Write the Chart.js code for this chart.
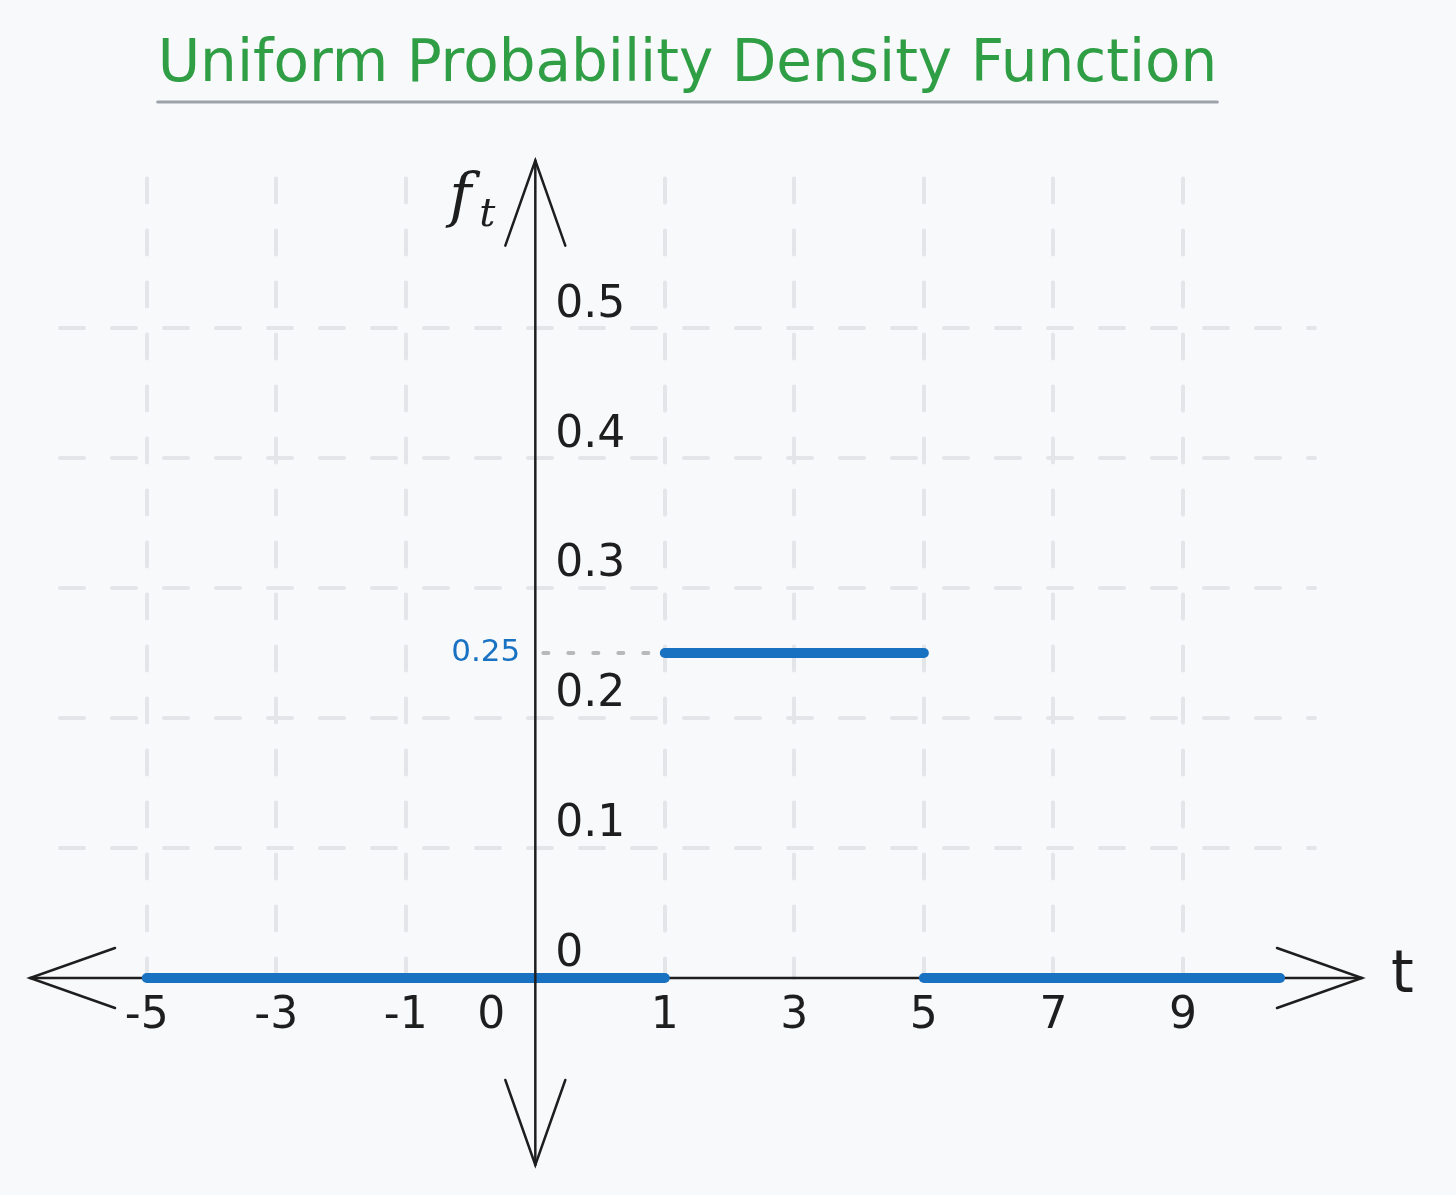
<!DOCTYPE html>
<html>
<head>
<meta charset="utf-8">
<title>Uniform Probability Density Function</title>
<script src="https://cdn.jsdelivr.net/npm/chart.js@4.4.1/dist/chart.umd.min.js"></script>
<style>
    html, body { margin: 0; padding: 0; background: #f8f9fb; }
    #wrap { width: 1456px; height: 1195px; }
</style>
</head>
<body>
<div id="wrap"><canvas id="pdfChart" width="1456" height="1195"></canvas></div>
<script>
// Tick labels of the sketch (drawn equally spaced, not to scale)
const tTicks = [-5, -3, -1, 0, 1, 3, 5, 7, 9];
const yTicks = [0, 0.1, 0.2, 0.3, 0.4, 0.5];

// f(t) = 0.25 on [1, 5], 0 elsewhere
const segStart = [-5, 1, 5];
const segEnd = [1, 5, 10.5];
const segValue = [0, 0.25, 0];
const plateauValue = 0.25;

const TITLE = 'Uniform Probability Density Function';
const TITLE_SIZE = 58;
const FONT = "'DejaVu Sans', sans-serif";
const MATH = "italic {size}px 'DejaVu Serif', serif";
const colors = {
    green: '#2f9e44',
    blue: '#1971c2',
    ink: '#1e1e1e',
    grid: '#e3e5e8',
    guide: '#b9b9b9',
    rule: '#9ca2a9'
};

// t -> slot on the equally spaced axis
function slotOf(t) {
    const n = tTicks.length;
    if (t <= tTicks[0]) return (t - tTicks[0]) / (tTicks[1] - tTicks[0]);
    for (let i = 1; i < n; i++) {
        if (t <= tTicks[i]) return i - 1 + (t - tTicks[i - 1]) / (tTicks[i] - tTicks[i - 1]);
    }
    return n - 1 + (t - tTicks[n - 1]) / (tTicks[n - 1] - tTicks[n - 2]);
}

const datasets = segStart.map((s, i) => ({
    data: [
        { x: slotOf(s), y: segValue[i] },
        { x: slotOf(segEnd[i]), y: segValue[i] }
    ],
    borderColor: colors.blue,
    borderWidth: 10,
    borderCapStyle: 'round',
    pointRadius: 0,
    clip: false
}));

function arrowHead(ctx, tipX, tipY, dx, dy) {
    // dx, dy: direction pointing back from the tip
    const len = 85, half = 30;
    const nx = -dy, ny = dx;
    ctx.beginPath();
    ctx.moveTo(tipX + dx * len + nx * half, tipY + dy * len + ny * half);
    ctx.lineTo(tipX, tipY);
    ctx.lineTo(tipX + dx * len - nx * half, tipY + dy * len - ny * half);
    ctx.stroke();
}

const sketchAxes = {
    id: 'sketchAxes',
    beforeDraw(chart) {
        chart.ctx.lineCap = 'round';
    },
    beforeDatasetsDraw(chart) {
        const { ctx, chartArea: a, scales: { y } } = chart;
        const oy = y.getPixelForValue(0);
        ctx.save();
        ctx.strokeStyle = colors.ink;
        ctx.lineWidth = 2.5;
        ctx.setLineDash([]);
        ctx.beginPath();
        ctx.moveTo(a.left - 30, oy);
        ctx.lineTo(a.right + 47, oy);
        ctx.stroke();
        arrowHead(ctx, a.left - 30, oy, 1, 0);
        arrowHead(ctx, a.right + 47, oy, -1, 0);
        ctx.restore();
    },
    afterDatasetsDraw(chart) {
        const { ctx, chartArea: a, scales: { x, y } } = chart;
        const ox = x.getPixelForValue(slotOf(0));
        const oy = y.getPixelForValue(0);
        ctx.save();
        ctx.strokeStyle = colors.ink;
        ctx.lineWidth = 2.5;
        ctx.setLineDash([]);
        ctx.beginPath();
        ctx.moveTo(ox, a.top - 18);
        ctx.lineTo(ox, a.bottom + 187);
        ctx.stroke();
        arrowHead(ctx, ox, a.top - 18, 0, 1);
        arrowHead(ctx, ox, a.bottom + 187, 0, -1);

        // y tick labels, right of the vertical axis
        ctx.fillStyle = colors.ink;
        ctx.font = '44px ' + FONT;
        ctx.textAlign = 'left';
        ctx.textBaseline = 'middle';
        y.ticks.forEach(t => {
            const label = t.value === 0 ? '0' : t.value.toFixed(1);
            ctx.fillText(label, ox + 20, y.getPixelForValue(t.value) - 23);
        });

        // dotted guide to the plateau
        const py = y.getPixelForValue(plateauValue);
        const px = x.getPixelForValue(slotOf(segStart[1]));
        ctx.strokeStyle = colors.guide;
        ctx.lineWidth = 4;
        ctx.setLineDash([5, 20]);
        ctx.beginPath();
        ctx.moveTo(ox + 8, py);
        ctx.lineTo(px - 8, py);
        ctx.stroke();
        ctx.setLineDash([]);
        ctx.fillStyle = colors.blue;
        ctx.font = '31px ' + FONT;
        ctx.textAlign = 'right';
        ctx.fillText(String(plateauValue), ox - 15, py);

        // axis names
        ctx.fillStyle = colors.ink;
        ctx.textAlign = 'left';
        ctx.textBaseline = 'alphabetic';
        ctx.font = MATH.replace('{size}', 60);
        ctx.fillText('f', ox - 86, a.top + 37);
        ctx.font = MATH.replace('{size}', 40);
        ctx.fillText('t', ox - 56, a.top + 47);
        ctx.font = '58px ' + FONT;
        ctx.fillText('t', a.right + 76, oy + 14);

        // title underline
        const tb = chart.titleBlock;
        ctx.font = TITLE_SIZE + 'px ' + FONT;
        const w = ctx.measureText(TITLE).width;
        const cx = (tb.left + tb.right) / 2;
        ctx.strokeStyle = colors.rule;
        ctx.lineWidth = 3;
        ctx.beginPath();
        ctx.moveTo(cx - w / 2, tb.top + 102);
        ctx.lineTo(cx + w / 2, tb.top + 102);
        ctx.stroke();
        ctx.restore();
    }
};

new Chart(document.getElementById('pdfChart'), {
    type: 'line',
    data: { datasets },
    options: {
        responsive: false,
        devicePixelRatio: 1,
        animation: false,
        layout: { padding: { left: 60, right: 141, top: 0, bottom: 217 } },
        plugins: {
            legend: { display: false },
            tooltip: { enabled: false },
            title: {
                display: true,
                text: TITLE,
                color: colors.green,
                font: { family: FONT, size: TITLE_SIZE, weight: 'normal' },
                padding: { top: 31, bottom: 78 }
            }
        },
        scales: {
            x: {
                type: 'linear',
                min: -0.67,
                max: 9.02,
                position: { y: 0 },
                afterBuildTicks: (scale) => {
                    scale.ticks = tTicks.map((t, i) => ({ value: i }));
                },
                grid: {
                    color: (c) => (c.tick && c.tick.value === slotOf(0)) ? 'rgba(0,0,0,0)' : colors.grid,
                    lineWidth: 4,
                    drawTicks: false
                },
                border: { display: false, dash: [24, 28] },
                ticks: {
                    color: colors.ink,
                    font: { family: FONT, size: 44 },
                    padding: 12,
                    maxRotation: 0,
                    autoSkip: false,
                    // the origin label sits left of the vertical axis
                    callback: (v, i) => tTicks[i] === 0 ? '0\u2003\u2003' : String(tTicks[i])
                }
            },
            y: {
                type: 'linear',
                min: 0,
                max: 0.615,
                afterBuildTicks: (scale) => {
                    scale.ticks = yTicks.map(v => ({ value: v }));
                },
                grid: {
                    color: (c) => (c.tick && c.tick.value === 0) ? 'rgba(0,0,0,0)' : colors.grid,
                    lineWidth: 4,
                    drawTicks: false
                },
                border: { display: false, dash: [24, 28] },
                ticks: { display: false }
            }
        }
    },
    plugins: [sketchAxes]
});
</script>
</body>
</html>
